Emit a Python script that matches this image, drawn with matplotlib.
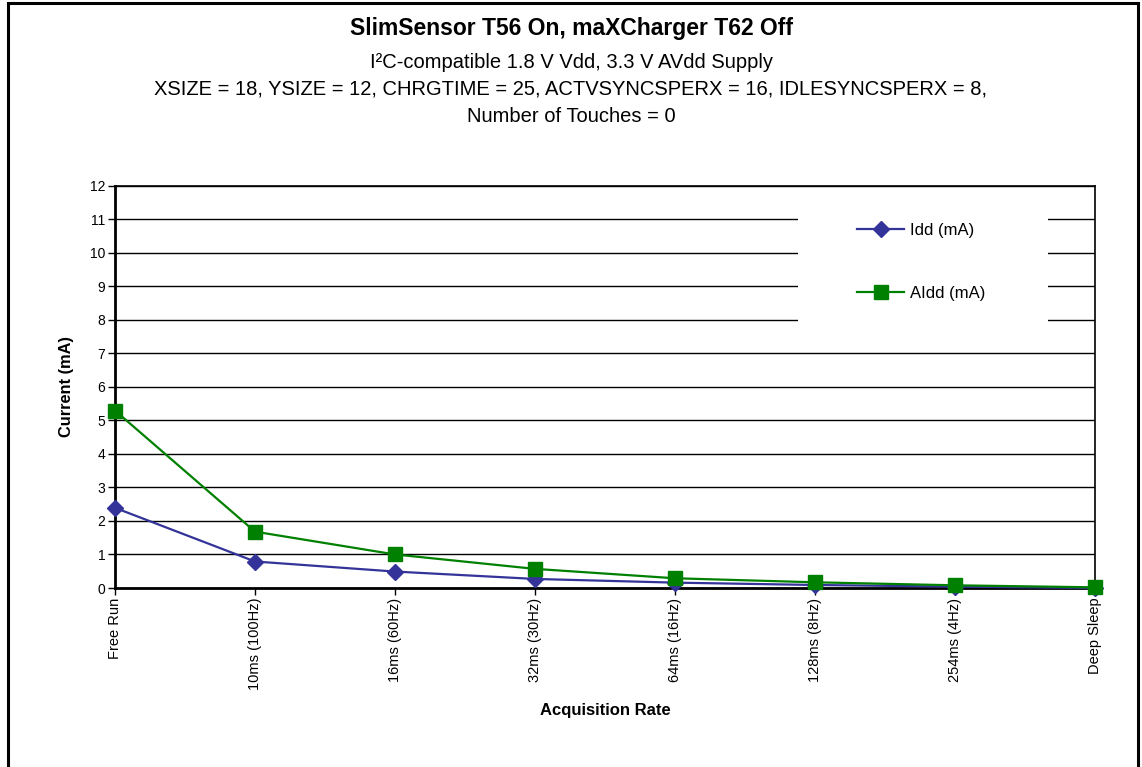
import matplotlib
matplotlib.use("Agg")
import matplotlib.pyplot as plt
from matplotlib.patches import Rectangle

plt.rcParams['font.family'] = ['Liberation Sans', 'DejaVu Sans']

categories = ["Free Run", "10ms (100Hz)", "16ms (60Hz)", "32ms (30Hz)",
              "64ms (16Hz)", "128ms (8Hz)", "254ms (4Hz)", "Deep Sleep"]
idd = [2.39, 0.79, 0.49, 0.27, 0.16, 0.09, 0.04, 0.0]
aidd = [5.29, 1.68, 1.0, 0.57, 0.29, 0.17, 0.08, 0.02]
y_ticks = list(range(0, 13))

W, H = 1142, 767
fig = plt.figure(figsize=(W / 100, H / 100), dpi=100)
ax = fig.add_axes([115 / W, 1 - 588 / H, (1095 - 115) / W, (588 - 185.5) / H])

x = list(range(len(categories)))
ax.plot(x, idd, color='#333399', lw=1.6, marker='D', ms=8, zorder=4,
        label='Idd (mA)', clip_on=False)
ax.plot(x, aidd, color='#008000', lw=1.6, marker='s', ms=10, zorder=5,
        label='AIdd (mA)', clip_on=False)

ax.set_xlim(0, len(categories) - 1)
ax.set_ylim(0, 12)
ax.set_yticks(y_ticks)
ax.set_yticklabels([str(v) for v in y_ticks], fontsize=10)
ax.set_xticks(x)
ax.set_xticklabels(categories, rotation=90, fontsize=10.5, va='top', ha='center')
ax.tick_params(axis='both', direction='out', length=5, width=1, pad=2)

ax.grid(axis='y', color='black', lw=1, zorder=1)
ax.set_axisbelow(True)
for s in ax.spines.values():
    s.set_linewidth(1.2)
ax.spines['left'].set_linewidth(2)
ax.spines['bottom'].set_linewidth(2)

ax.set_ylabel('Current (mA)', fontsize=11.8, fontweight='bold', labelpad=11)
ax.set_xlabel('Acquisition Rate', fontsize=12, fontweight='bold', labelpad=9)

# white area behind legend
ax.add_patch(Rectangle((0.697, 0.66), 0.255, 0.29, transform=ax.transAxes,
                       facecolor='white', edgecolor='none', zorder=2))
leg = ax.legend(loc='upper left', bbox_to_anchor=(0.757, 0.907), frameon=False,
                fontsize=12, labelspacing=2.9, handlelength=2.85,
                handletextpad=0.35, borderpad=0, borderaxespad=0)
leg.set_zorder(6)

fig.text(0.5, 1 - 28 / H, 'SlimSensor T56 On, maXCharger T62 Off',
         ha='center', va='center', fontsize=16.5, fontweight='bold')
fig.text(0.5, 1 - 62 / H, 'I²C-compatible 1.8 V Vdd, 3.3 V AVdd Supply',
         ha='center', va='center', fontsize=14.5)
fig.text(0.5, 1 - 89 / H,
         'XSIZE = 18, YSIZE = 12, CHRGTIME = 25, ACTVSYNCSPERX = 16, IDLESYNCSPERX = 8,',
         ha='center', va='center', fontsize=14.5)
fig.text(0.5, 1 - 116 / H, 'Number of Touches = 0',
         ha='center', va='center', fontsize=14.5)

fig.patches.append(Rectangle((7.5 / W, -0.02), (1137.5 - 7.5) / W, 1.02 - 2.5 / H,
                             transform=fig.transFigure, fill=False,
                             edgecolor='black', lw=2.2))

fig.savefig('out.png', dpi=100)
